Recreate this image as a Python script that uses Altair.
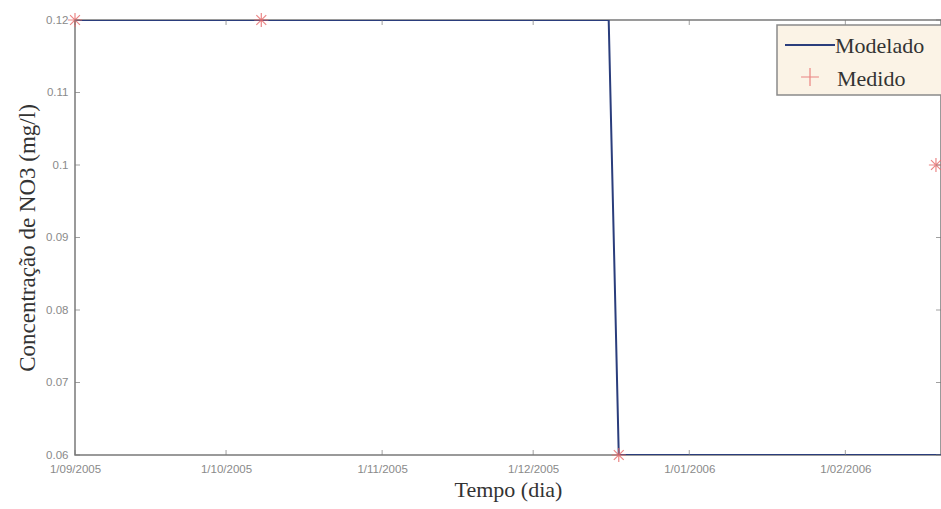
import altair as alt
import pandas as pd

# Modelled series (line)
mod_dates = ["2005-09-01", "2005-12-16", "2005-12-18", "2006-02-20"]
mod_values = [0.12, 0.12, 0.06, 0.06]

# Measured series (markers)
med_dates = ["2005-09-01", "2005-10-08", "2005-12-18", "2006-02-19"]
med_values = [0.12, 0.12, 0.06, 0.10]

# Axis ticks
y_ticks = [0.06, 0.07, 0.08, 0.09, 0.10, 0.11, 0.12]
x_ticks = ["2005-09-01", "2005-10-01", "2005-11-01", "2005-12-01", "2006-01-01", "2006-02-01"]

x_domain = ["2005-09-01", "2006-02-20"]
y_domain = [0.06, 0.12]

legend_names = ["Modelado", "Medido"]

W, H = 866, 435

mod_df = pd.DataFrame({"date": mod_dates, "value": mod_values})
med_df = pd.DataFrame({"date": med_dates, "value": med_values})
yt_df = pd.DataFrame({"value": y_ticks})
xt_df = pd.DataFrame({"date": x_ticks})
one_df = pd.DataFrame({"k": [0]})

def dt(s):
    y, m, d = (int(p) for p in s.split("-"))
    return alt.DateTime(year=y, month=m, date=d, utc=True)

xscale = alt.Scale(type="utc", domain=[dt(s) for s in x_domain])
yscale = alt.Scale(domain=y_domain, nice=False, zero=False)

x_axis = alt.Axis(
    values=[dt(s) for s in x_ticks],
    labelExpr="utcFormat(datum.value, '%-d/%m/%Y')",
    title="Tempo (dia)",
    titleFont="Liberation Serif",
    titleFontSize=22,
    titleFontWeight="normal",
    titleColor="#333333",
    titlePadding=5,
    labelFont="Liberation Sans",
    labelFontSize=11.5,
    labelColor="#8a8a8a",
    labelPadding=8,
    labelFlush=False,
    labelOverlap=False,
    ticks=False,
    grid=False,
    domain=False,
)
y_axis = alt.Axis(
    values=y_ticks,
    labelExpr="format(datum.value, '.2~f')",
    title="Concentração de NO3 (mg/l)",
    titleFont="Liberation Serif",
    titleFontSize=23,
    titleFontWeight="normal",
    titleColor="#333333",
    titlePadding=6,
    labelFont="Liberation Sans",
    labelFontSize=11.5,
    labelColor="#8a8a8a",
    labelPadding=7,
    labelFlush=False,
    labelOverlap=False,
    ticks=False,
    grid=False,
    domain=False,
)

X = alt.X("date:T", scale=xscale, axis=x_axis)
Y = alt.Y("value:Q", scale=yscale, axis=y_axis)

line = alt.Chart(mod_df).mark_line(color="#2a3d7c", strokeWidth=2, clip=True).encode(x=X, y=Y)

star_path = "M-1,0L1,0M0,-1L0,1M-0.7,-0.7L0.7,0.7M-0.7,0.7L0.7,-0.7"
pts = alt.Chart(med_df).mark_point(
    shape=star_path, size=200, filled=False, color="#e86a6a", strokeWidth=1.2, opacity=0.8
).encode(x=X, y=Y)

# Inward ticks
tick_style = dict(color="#777777", thickness=1, size=5)
yt_left = alt.Chart(yt_df).mark_tick(orient="horizontal", **tick_style).encode(
    x=alt.value(2.5), y=Y)
yt_right = alt.Chart(yt_df).mark_tick(orient="horizontal", **tick_style).encode(
    x=alt.value(W - 2.5), y=Y)
xt_bottom = alt.Chart(xt_df).mark_tick(orient="vertical", **tick_style).encode(
    y=alt.value(H - 2.5), x=X)
xt_top = alt.Chart(xt_df).mark_tick(orient="vertical", **tick_style).encode(
    y=alt.value(2.5), x=X)

# Legend (box, line sample, marker, labels)
lg_box = alt.Chart(one_df).mark_rect(fill="#fbf3e6", stroke="#8a8a8a", strokeWidth=1.5).encode(
    x=alt.value(702), x2=alt.value(W + 4), y=alt.value(5), y2=alt.value(75))
lg_line = alt.Chart(one_df).mark_rule(color="#2a3d7c", strokeWidth=2).encode(
    x=alt.value(710), x2=alt.value(760), y=alt.value(25))
lg_cross = alt.Chart(one_df).mark_point(
    shape="M-1,0L1,0M0,-1L0,1", size=320, filled=False, color="#e86a6a", strokeWidth=1.2, opacity=0.8
).encode(x=alt.value(735), y=alt.value(57))
lg_t1 = alt.Chart(one_df).mark_text(
    text=legend_names[0], font="Liberation Serif", fontSize=22, align="left", baseline="middle", color="#333333"
).encode(x=alt.value(760), y=alt.value(26))
lg_t2 = alt.Chart(one_df).mark_text(
    text=legend_names[1], font="Liberation Serif", fontSize=22, align="left", baseline="middle", color="#333333"
).encode(x=alt.value(762), y=alt.value(59))

chart = alt.layer(
    line, pts, yt_left, yt_right, xt_bottom, xt_top,
    lg_box, lg_line, lg_cross, lg_t1, lg_t2,
).properties(
    width=W, height=H,
    padding={"left": 75, "top": 20, "right": 0, "bottom": 54},
    autosize=alt.AutoSizeParams(type="none"),
    background="white",
).configure_view(
    stroke="#7a7a7a", strokeWidth=1.5
)

chart.save("out.html", embed_options={"renderer": "svg", "actions": False})
